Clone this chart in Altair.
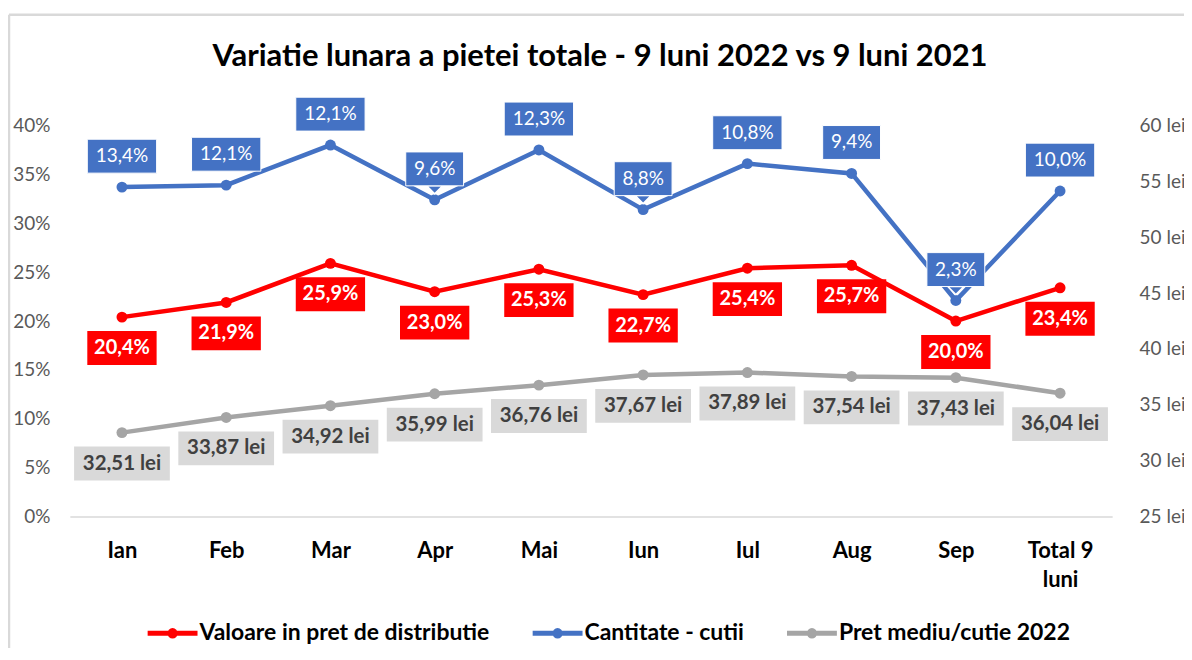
import altair as alt
import pandas as pd

categories = ["Ian", "Feb", "Mar", "Apr", "Mai", "Iun", "Iul", "Aug", "Sep", "Total 9 luni"]
valoare = [20.4, 21.9, 25.9, 23.0, 25.3, 22.7, 25.4, 25.7, 20.0, 23.4]
cantitate_pos = [33.7, 33.9, 38.0, 32.4, 37.5, 31.4, 36.1, 35.1, 22.1, 33.3]
cantitate_lbl = [13.4, 12.1, 12.1, 9.6, 12.3, 8.8, 10.8, 9.4, 2.3, 10.0]
pret = [32.51, 33.87, 34.92, 35.99, 36.76, 37.67, 37.89, 37.54, 37.43, 36.04]
series_names = ["Valoare in pret de distributie", "Cantitate - cutii", "Pret mediu/cutie 2022"]
line_colors = ["#FF0000", "#4472C4", "#A5A5A5"]
left_ticks = [0, 5, 10, 15, 20, 25, 30, 35, 40]
right_ticks = [25, 30, 35, 40, 45, 50, 55, 60]
callout_cats = ["Apr", "Iun", "Sep"]
title_text = "Variatie lunara a pietei totale - 9 luni 2022 vs 9 luni 2021"

FONT = "Lato"


def fmt(v, dec):
    return f"{v:.{dec}f}".replace(".", ",")


rows = []
for i, c in enumerate(categories):
    rows.append(dict(cat=c, series=series_names[0], y=valoare[i], label=fmt(valoare[i], 1) + "%"))
    rows.append(dict(cat=c, series=series_names[1], y=cantitate_pos[i], label=fmt(cantitate_lbl[i], 1) + "%"))
    rows.append(dict(cat=c, series=series_names[2], y=pret[i], label=fmt(pret[i], 2) + " lei"))
df = pd.DataFrame(rows)
df["n"] = df["label"].str.len()
df["callout"] = df["cat"].isin(callout_cats).astype(int)

x_axis = alt.Axis(title=None, labelAngle=0, ticks=False, grid=False,
                  domainColor="#D9D9D9", domainWidth=1.5,
                  labelFont=FONT, labelFontSize=22, labelFontWeight="bold",
                  labelColor="#000000", labelPadding=24, labelLineHeight=29,
                  labelBaseline="top",
                  labelExpr="datum.label == 'Total 9 luni' ? ['Total 9', 'luni'] : datum.label")
x_scale = alt.Scale(type="point", padding=0.5)


def xenc():
    return alt.X("cat:N", sort=categories, scale=x_scale, axis=x_axis)


left_axis = alt.Axis(title=None, values=left_ticks, labelExpr="datum.value + '%'",
                     domain=False, ticks=False, grid=False,
                     labelFont=FONT, labelFontSize=19, labelColor="#595959",
                     labelPadding=20)
right_axis = alt.Axis(title=None, orient="right", values=right_ticks,
                      labelExpr="datum.value + ' lei'",
                      domain=False, ticks=False, grid=False,
                      labelFont=FONT, labelFontSize=19, labelColor="#595959",
                      labelPadding=27)
left_scale = alt.Scale(domain=[0, 40], nice=False, zero=False)
right_scale = alt.Scale(domain=[25, 60], nice=False, zero=False)

color_enc = alt.Color("series:N", scale=alt.Scale(domain=series_names, range=line_colors),
                      legend=alt.Legend(
                          title=None, orient="none", direction="horizontal",
                          legendX=88, legendY=494,
                          symbolType="M-2,0L2,0M0.22,0A0.22,0.22,0,1,1,-0.22,0A0.22,0.22,0,1,1,0.22,0",
                          symbolSize=625, symbolStrokeWidth=5, symbolOpacity=1,
                          labelOffset=12, columnPadding=33, padding=0,
                          labelFont=FONT, labelFontSize=23, labelFontWeight="bold",
                          labelColor="#000000", labelLimit=500))

BOX_H = 34


def box_layers(base, series, scale, axis, off, fill, txt_color, weight, fsize, fixed_w=None,
               stroke=None, callouts=False):
    sub = df[df["series"] == series]
    layers = []
    if callouts:
        layers.append(
            base.transform_filter(alt.datum.series == series)
            .transform_filter(alt.datum.callout == 1)
            .mark_point(shape="M-1,-0.5L1,-0.5L0,0.5Z", size=256, filled=True, fill=fill,
                        stroke="#FFFFFF", strokeWidth=1.5, opacity=1,
                        yOffset=off + BOX_H / 2 + 4)
            .encode(x=xenc(), y=alt.Y("y:Q", scale=scale, axis=axis))
        )
    for n in sorted(sub["n"].unique()):
        w = fixed_w if fixed_w else 11.5 * n + 12
        kw = dict(stroke=stroke, strokeWidth=1) if stroke else {}
        layers.append(
            base.transform_filter(alt.datum.series == series)
            .transform_filter(alt.datum.n == int(n))
            .mark_rect(width=w, yOffset=off - BOX_H / 2, y2Offset=off + BOX_H / 2, fill=fill, **kw)
            .encode(x=xenc(),
                    y=alt.Y("y:Q", scale=scale, axis=axis),
                    y2=alt.Y2("y:Q"))
        )
    layers.append(
        base.transform_filter(alt.datum.series == series)
        .mark_text(yOffset=off, font=FONT, fontSize=fsize, fontWeight=weight, color=txt_color,
                   align="center", baseline="middle")
        .encode(x=xenc(), y=alt.Y("y:Q", scale=scale, axis=axis), text="label:N")
    )
    return layers


base = alt.Chart(df)

left_line = (
    base.transform_filter(alt.FieldOneOfPredicate(field="series", oneOf=series_names[:2]))
    .mark_line(strokeWidth=4.5, point=alt.OverlayMarkDef(filled=True, size=120))
    .encode(x=xenc(), y=alt.Y("y:Q", scale=left_scale, axis=left_axis),
            color=color_enc, detail="series:N")
)

left_layer = alt.layer(
    left_line,
    *box_layers(base, series_names[1], left_scale, left_axis, -31, "#4472C4", "#FFFFFF", "normal", 19,
                stroke="#FFFFFF", callouts=True),
    *box_layers(base, series_names[0], left_scale, left_axis, 31, "#FF0000", "#FFFFFF", "bold", 20),
)

right_line = (
    base.transform_filter(alt.datum.series == series_names[2])
    .mark_line(strokeWidth=4.5, point=alt.OverlayMarkDef(filled=True, size=120))
    .encode(x=xenc(), y=alt.Y("y:Q", scale=right_scale, axis=right_axis), color=color_enc)
)

right_layer = alt.layer(
    right_line,
    *box_layers(base, series_names[2], right_scale, right_axis, 31, "#D9D9D9", "#404040", "bold", 20.5,
                fixed_w=96),
)

# light frame around the chart (top and left edges, as in the reference)
frame = alt.Chart(pd.DataFrame({"k": [0]})).mark_rule(color="#D9D9D9", strokeWidth=2.5).encode(
    x=alt.value(-61), x2=alt.value(1120), y=alt.value(-111))
frame_left = alt.Chart(pd.DataFrame({"k": [0]})).mark_rule(color="#D9D9D9", strokeWidth=2.5).encode(
    x=alt.value(-61), y=alt.value(-111), y2=alt.value(530))

chart = (
    alt.layer(right_layer, left_layer, frame, frame_left)
    .resolve_scale(y="independent")
    .properties(
        width=1045, height=392,
        autosize=alt.AutoSizeParams(type="none"),
        padding={"left": 62, "top": 117, "right": 72, "bottom": 131},
        title=alt.TitleParams(title_text, font=FONT, fontSize=31, fontWeight="bold",
                              color="#000000", anchor="middle", offset=-60, dx=9),
        background="#FFFFFF",
    )
    .configure_view(stroke=None)
)

chart.save("out.html", embed_options={"renderer": "svg", "actions": False})
